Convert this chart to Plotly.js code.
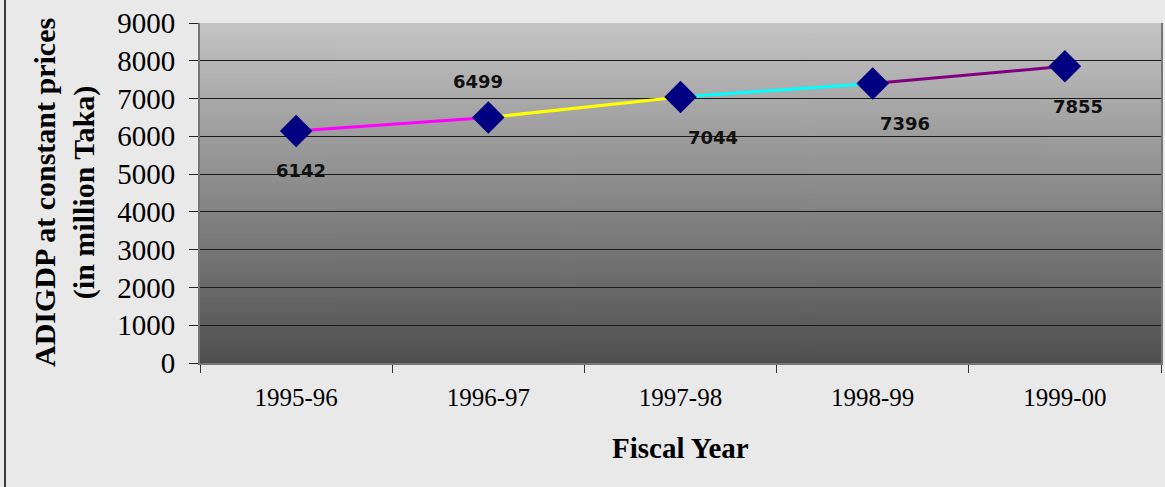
<!DOCTYPE html>
<html>
<head>
<meta charset="utf-8">
<script src="https://cdn.plot.ly/plotly-3.0.1.min.js"></script>
<style>
html,body{margin:0;padding:0;background:#e9e9e9;}
#chart{width:1165px;height:487px;}
</style>
</head>
<body>
<div id="chart"></div>
<script>
// ---- data ----
const years = ["1995-96", "1996-97", "1997-98", "1998-99", "1999-00"];
const adigdp = [6142, 6499, 7044, 7396, 7855];
const yTicks = [0, 1000, 2000, 3000, 4000, 5000, 6000, 7000, 8000, 9000];

// ---- styles ----
const segColors = ["#ff00ff", "#ffff00", "#00ffff", "#800080"];
const labelShift = [[5, -40], [-10, 36], [32, -41], [32, -40], [13, -40]];

// gradient image for plot area
const cv = document.createElement('canvas');
cv.width = 4; cv.height = 340;
const ctx = cv.getContext('2d');
const g = ctx.createLinearGradient(0, 0, 0, 340);
g.addColorStop(0, '#c4c4c4');
g.addColorStop(1, '#4f4f4f');
ctx.fillStyle = g; ctx.fillRect(0, 0, 4, 340);
const gradURL = cv.toDataURL();

const traces = [];
for (let i = 0; i < years.length - 1; i++) {
  traces.push({
    type: 'scatter', mode: 'lines',
    x: [years[i], years[i + 1]], y: [adigdp[i], adigdp[i + 1]],
    line: {color: segColors[i], width: 3},
    hoverinfo: 'skip', showlegend: false
  });
}
traces.push({
  type: 'scatter', mode: 'markers', x: years, y: adigdp,
  marker: {symbol: 'diamond', size: 25, color: '#000080'},
  showlegend: false
});

const annotations = years.map((yr, i) => ({
  x: yr, y: adigdp[i], xref: 'x', yref: 'y',
  text: String(adigdp[i]), showarrow: false,
  xshift: labelShift[i][0], yshift: labelShift[i][1],
  font: {family: 'DejaVu Sans', size: 18, color: '#111', weight: 'bold'}
}));
annotations.push({
  xref: 'paper', yref: 'paper', x: (64 - 200) / 961, y: 0.5,
  xanchor: 'center', yanchor: 'middle', textangle: -90, showarrow: false,
  text: '<b>ADIGDP at constant prices</b><br><b>(in million Taka)</b>',
  font: {family: 'Liberation Serif', size: 30, color: '#000'}
});
annotations.push({
  xref: 'paper', yref: 'paper', x: 0.5, y: (363 - 448) / 340,
  xanchor: 'center', yanchor: 'middle', showarrow: false,
  text: '<b>Fiscal Year</b>',
  font: {family: 'Liberation Serif', size: 29, color: '#000'}
});

const layout = {
  width: 1165, height: 487,
  margin: {l: 200, r: 4, t: 23, b: 124},
  paper_bgcolor: '#e9e9e9', plot_bgcolor: 'rgba(0,0,0,0)',
  showlegend: false,
  images: [{source: gradURL, xref: 'paper', yref: 'paper', x: 0, y: 1,
            sizex: 1, sizey: 1, sizing: 'stretch', layer: 'below',
            xanchor: 'left', yanchor: 'top'}],
  xaxis: {
    type: 'category', range: [-0.5, 4.5], tickson: 'boundaries',
    ticks: 'outside', ticklen: 8, tickcolor: '#333', tickwidth: 1,
    showgrid: false, showline: true, linecolor: '#777', linewidth: 2,
    mirror: false, zeroline: false,
    tickfont: {family: 'Liberation Serif', size: 25, color: '#000'},
    ticklabelstandoff: 11
  },
  yaxis: {
    range: [0, 9000], tickvals: yTicks, ticks: 'outside', ticklen: 9,
    tickcolor: '#222', showgrid: true, gridcolor: '#1a1a1a', gridwidth: 1,
    showline: true, linecolor: '#777', linewidth: 2, mirror: true,
    zeroline: false, ticklabelstandoff: 8,
    tickfont: {family: 'Liberation Serif', size: 29, color: '#000'}
  },
  shapes: [{type: 'line', xref: 'paper', yref: 'paper',
            x0: (5 - 200) / 961, x1: (5 - 200) / 961, y0: -124 / 340, y1: 1 + 23 / 340,
            line: {color: '#000', width: 1.5}}],
  annotations: annotations
};

Plotly.newPlot('chart', traces, layout, {displayModeBar: false, staticPlot: true});
</script>
</body>
</html>
